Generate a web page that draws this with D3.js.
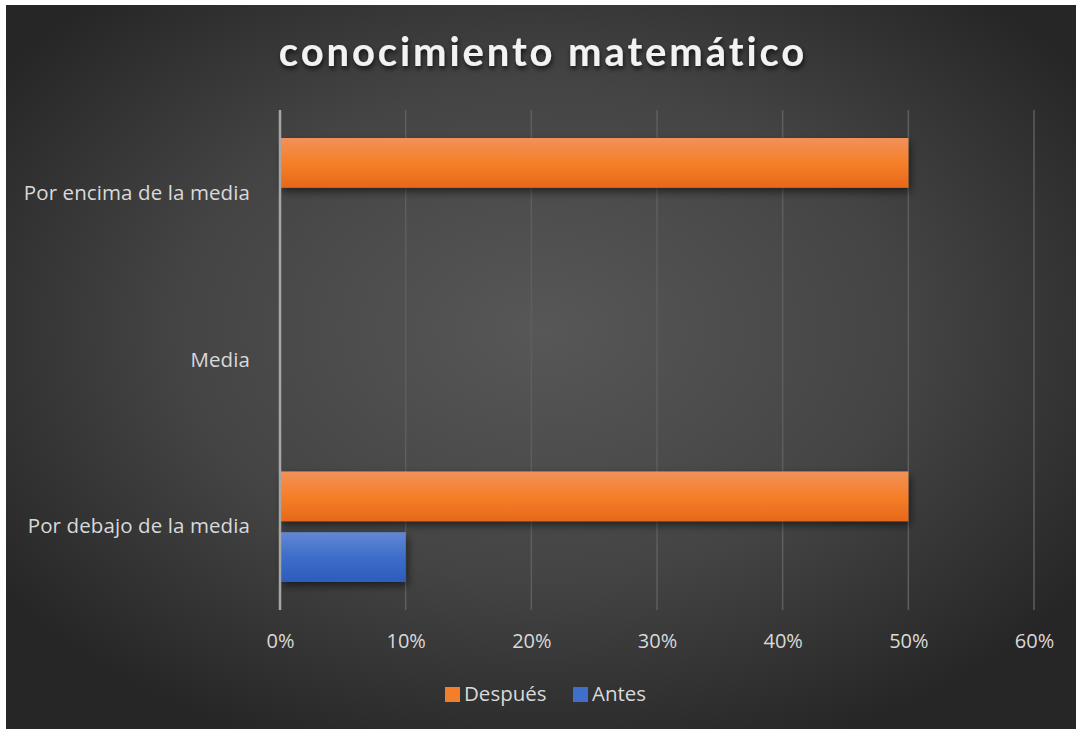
<!DOCTYPE html>
<html>
<head>
<meta charset="utf-8">
<script src="https://cdn.jsdelivr.net/npm/d3@7"></script>
<style>
  html, body { margin: 0; padding: 0; background: #ffffff; }
  svg { display: block; }
</style>
</head>
<body>
<svg id="chart" width="1076" height="729"></svg>
<script>
const categories = ["Por encima de la media", "Media", "Por debajo de la media"];
const seriesNames = ["Después", "Antes"];
const despues = [0.50, 0, 0.50];
const antes = [0, 0, 0.10];
const xTicks = [0, 0.1, 0.2, 0.3, 0.4, 0.5, 0.6];
const title = "conocimiento matemático";

(function () {
const W = 1076, H = 729;
const svg = d3.select("#chart");
const defs = svg.append("defs");

const bg = defs.append("radialGradient").attr("id", "bg")
  .attr("cx", "50%").attr("cy", "45%").attr("r", "62%");
bg.append("stop").attr("offset", "0%").attr("stop-color", "#575757");
bg.append("stop").attr("offset", "55%").attr("stop-color", "#444444");
bg.append("stop").attr("offset", "100%").attr("stop-color", "#262626");

const gOr = defs.append("linearGradient").attr("id", "gOr").attr("x1", 0).attr("y1", 0).attr("x2", 0).attr("y2", 1);
gOr.append("stop").attr("offset", "0%").attr("stop-color", "#f19159");
gOr.append("stop").attr("offset", "50%").attr("stop-color", "#f67f29");
gOr.append("stop").attr("offset", "100%").attr("stop-color", "#e6681a");
const gBl = defs.append("linearGradient").attr("id", "gBl").attr("x1", 0).attr("y1", 0).attr("x2", 0).attr("y2", 1);
gBl.append("stop").attr("offset", "0%").attr("stop-color", "#6288d4");
gBl.append("stop").attr("offset", "50%").attr("stop-color", "#3d6dca");
gBl.append("stop").attr("offset", "100%").attr("stop-color", "#2c5dbd");

const sh = defs.append("filter").attr("id", "sh").attr("x", "-10%").attr("y", "-30%").attr("width", "130%").attr("height", "180%");
sh.append("feDropShadow").attr("dx", 2).attr("dy", 4).attr("stdDeviation", 4).attr("flood-color", "#000").attr("flood-opacity", 0.55);
const tsh = defs.append("filter").attr("id", "tsh").attr("x", "-10%").attr("y", "-30%").attr("width", "120%").attr("height", "180%");
tsh.append("feDropShadow").attr("dx", 1).attr("dy", 3).attr("stdDeviation", 2.5).attr("flood-color", "#000").attr("flood-opacity", 0.7);

svg.append("rect").attr("x", 6).attr("y", 5).attr("width", W - 6).attr("height", H - 5).attr("fill", "url(#bg)");

const font = "'Open Sans', sans-serif";
const tfont = "Lato, 'Open Sans', sans-serif";
const txt = "#d9d9d9";

svg.append("text").attr("x", 543).attr("y", 66).attr("text-anchor", "middle")
  .attr("font-family", tfont).attr("font-weight", "bold").attr("font-size", 40)
  .attr("letter-spacing", 2.9).attr("fill", "#f2f2f2").attr("filter", "url(#tsh)")
  .text(title);

const pl = 280, pr = 1034, pt = 110, pb = 610;
const x = d3.scaleLinear().domain([0, 0.6]).range([pl, pr]);
const y = d3.scaleBand().domain(categories).range([pt, pb]).paddingInner(0.337).paddingOuter(0.168);
const sub = d3.scaleBand().domain(seriesNames).range([0, y.bandwidth()]).paddingInner(0.18);

svg.append("g").selectAll("line").data(xTicks.filter(d => d > 0)).join("line")
  .attr("x1", d => x(d)).attr("x2", d => x(d)).attr("y1", pt).attr("y2", pb)
  .attr("stroke", "#5e5e5e").attr("stroke-width", 1.5);

const xAxis = d3.axisBottom(x).tickValues(xTicks).tickFormat(d3.format(".0%")).tickSize(0).tickPadding(0);
const gx = svg.append("g").attr("transform", `translate(0, ${pb + 22})`).call(xAxis);
gx.select(".domain").remove();
gx.selectAll("text").attr("font-family", font).attr("font-size", 20).attr("fill", txt).attr("dy", "0.8em");

const yAxis = d3.axisLeft(y).tickSize(0).tickPadding(30);
const gy = svg.append("g").attr("transform", `translate(${pl}, 0)`).call(yAxis);
gy.select(".domain").remove();
gy.selectAll("text").attr("font-family", font).attr("font-size", 20.5).attr("letter-spacing", 0.1).attr("fill", txt);

const data = [];
categories.forEach((c, i) => {
  data.push({ cat: c, s: "Después", v: despues[i], fill: "url(#gOr)" });
  data.push({ cat: c, s: "Antes", v: antes[i], fill: "url(#gBl)" });
});
svg.append("g").selectAll("rect").data(data.filter(d => d.v > 0)).join("rect")
  .attr("x", x(0)).attr("y", d => y(d.cat) + sub(d.s))
  .attr("width", d => x(d.v) - x(0)).attr("height", sub.bandwidth())
  .attr("fill", d => d.fill).attr("filter", "url(#sh)");

svg.append("line").attr("x1", x(0)).attr("x2", x(0)).attr("y1", pt).attr("y2", pb)
  .attr("stroke", "#a6a6a6").attr("stroke-width", 2.5);

const legend = svg.append("g");
const legItems = [{ name: "Después", fill: "#f47f2a", lx: 445 }, { name: "Antes", fill: "#3f6fcb", lx: 573 }];
legItems.forEach(it => {
  legend.append("rect").attr("x", it.lx).attr("y", 687).attr("width", 15).attr("height", 15).attr("fill", it.fill);
  legend.append("text").attr("x", it.lx + 19).attr("y", 701).attr("font-family", font).attr("font-size", 20.5)
    .attr("fill", txt).text(it.name);
});
})();
</script>
</body>
</html>
